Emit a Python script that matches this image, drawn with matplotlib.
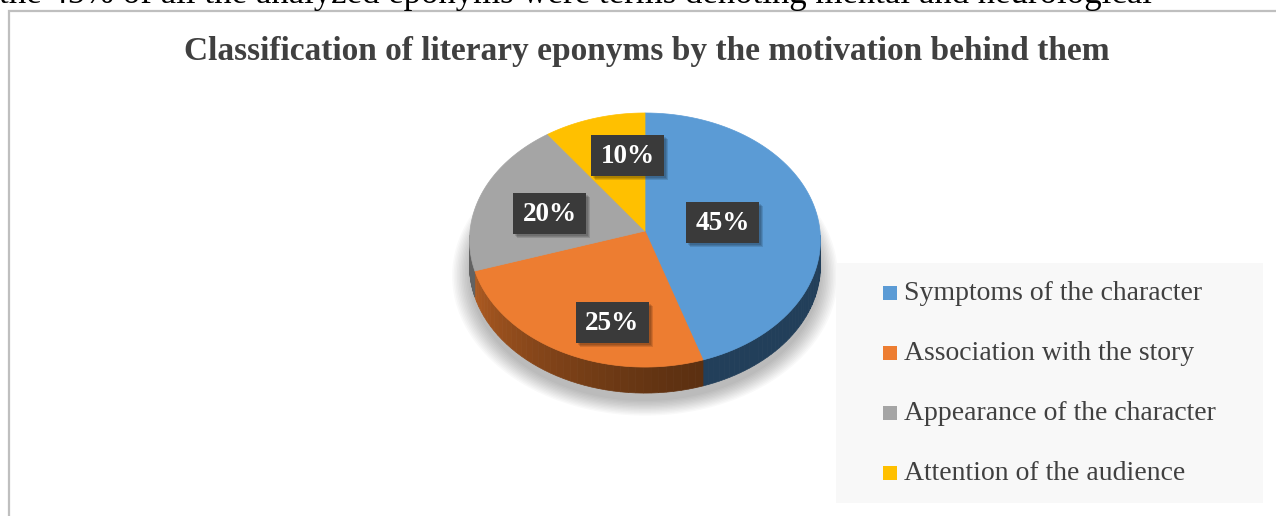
import numpy as np
import matplotlib.pyplot as plt
from matplotlib.patches import Polygon, Rectangle

# chart data
categories = ['Symptoms of the character', 'Association with the story',
              'Appearance of the character', 'Attention of the audience']
shares = [45, 25, 20, 10]
labels = ['45%', '25%', '20%', '10%']
colors = ['#5B9BD5', '#ED7D31', '#A5A5A5', '#FFC000']
side_colors = ['#223F5A', '#7A4118', '#626262', '#997300']

title = 'Classification of literary eponyms by the motivation behind them'
above = 'the 45% of all the analyzed eponyms were terms denoting mental and neurological'

# layout (pixels)
W, H = 1276, 516
cx, cy = 645, 231      # apex of the pie on screen
rx, ry = 175, 126.4    # radii of top face
p = 0.071              # perspective factor
depth = 26             # thickness of the pie
label_pos = [(0.45, 0.45), (0.40, 0.77), (0.58, 0.46), (0.33, 0.66)]
box_w, box_h = 73, 41

plt.rcParams['font.family'] = ['Liberation Serif', 'DejaVu Serif']

fig = plt.figure(figsize=(W/100, H/100), dpi=100)
ax = fig.add_axes([0, 0, 1, 1])
ax.set_xlim(0, W)
ax.set_ylim(H, 0)
ax.axis('off')


def proj(theta, r=1.0, dz=0.0):
    t = np.radians(theta)
    X = r*np.sin(t)
    Z = -r*np.cos(t)
    s = 1.0/(1.0 - p*Z)
    return cx + rx*X*s, cy + ry*Z*s + dz


# text of the page above the chart (cut off by the page edge)
ax.text(-1, 3, above, fontsize=25, color='black', va='baseline', ha='left')

# chart frame
ax.plot([8.5, 8.5, W + 5], [H + 5, 11, 11], color='#BFBFBF', lw=1.6,
        solid_joinstyle='miter')

ax.text(647, 60, title, fontsize=24, fontweight='bold', color='#404040',
        ha='center', va='baseline')

# soft shadow under the pie
full = np.linspace(0, 360, 200)
for k in range(12):
    xs, ys = proj(full, r=1.0 + 0.009*k, dz=depth + 8)
    ax.add_patch(Polygon(np.c_[xs, ys], closed=True, fc='black', ec='none',
                         alpha=0.025))

bounds = np.concatenate([[0], np.cumsum(shares)]) / sum(shares) * 360

# sides (front half only)
for i in range(len(shares)):
    a0, a1 = max(bounds[i], 92), min(bounds[i+1], 268)
    if a1 <= a0:
        continue
    segs = np.linspace(a0, a1, 40)
    for j in range(len(segs) - 1):
        t = np.linspace(segs[j], segs[j+1], 4)
        xs, ys = proj(t)
        pts = np.r_[np.c_[xs, ys], np.c_[xs, ys + depth][::-1]]
        col = side_colors[i]
        if i == 1:  # orange side gets lighter toward the left
            f = (segs[j] - a0) / (a1 - a0)
            c0 = np.array([0x5C, 0x30, 0x11]) / 255
            c1 = np.array([0xB0, 0x5C, 0x22]) / 255
            col = c0 + (c1 - c0)*f**1.3
        ax.add_patch(Polygon(pts, closed=True, fc=col, ec=col, lw=0.5))

# top faces
for i in range(len(shares)):
    t = np.linspace(bounds[i], bounds[i+1], 80)
    xs, ys = proj(t)
    pts = np.r_[[[cx, cy]], np.c_[xs, ys]]
    ax.add_patch(Polygon(pts, closed=True, fc=colors[i], ec=colors[i], lw=0.5))

# data labels in dark boxes with a drop shadow
for i in range(len(shares)):
    mid = (bounds[i] + bounds[i+1]) / 2
    fx, fy = label_pos[i]
    x1, _ = proj(mid, r=fx)
    _, y1 = proj(mid, r=fy)
    for k in range(3):
        ax.add_patch(Rectangle((x1 - box_w/2 + 2 + k, y1 - box_h/2 + 2 + k),
                               box_w, box_h, fc='black', ec='none', alpha=0.12))
    ax.add_patch(Rectangle((x1 - box_w/2, y1 - box_h/2), box_w, box_h,
                           fc='#3A3A3A', ec='none'))
    ax.text(x1, y1 + 1, labels[i], fontsize=19.5, fontweight='bold',
            color='white', ha='center', va='center')

# legend
ax.add_patch(Rectangle((836, 263), 427, 240, fc='#F8F8F8', ec='none'))
for i, name in enumerate(categories):
    yy = 293 + 60*i
    ax.add_patch(Rectangle((883, yy - 7), 14, 14, fc=colors[i], ec='none'))
    ax.text(904, yy, name, fontsize=20, color='#404040', ha='left',
            va='center')

fig.savefig('out.png', dpi=100)
